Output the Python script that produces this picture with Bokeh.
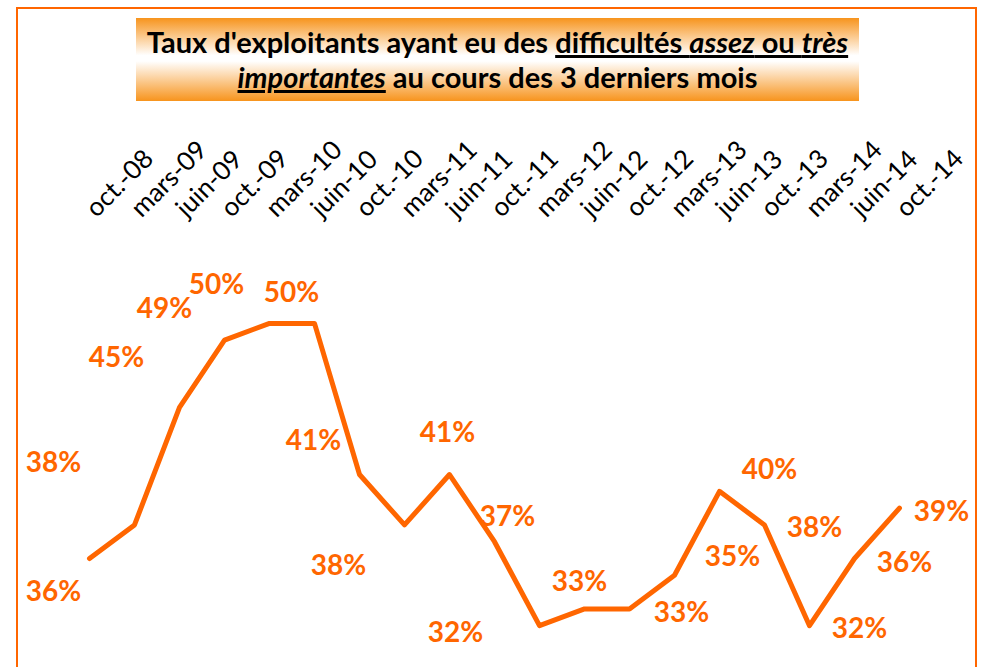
import math
from bokeh.plotting import figure
from bokeh.models import ColumnDataSource, Range1d, FixedTicker, Div
from bokeh.layouts import column, row
from bokeh.core.properties import value
from bokeh.embed import file_html
from bokeh.resources import INLINE

# ---- data ----
periods = ["oct.-08", "mars-09", "juin-09", "oct.-09", "mars-10", "juin-10", "oct.-10",
           "mars-11", "juin-11", "oct.-11", "mars-12", "juin-12", "oct.-12", "mars-13",
           "juin-13", "oct.-13", "mars-14", "juin-14", "oct.-14"]
rates = [36, 38, 45, 49, 50, 50, 41, 38, 41, 37, 32, 33, 33, 35, 40, 38, 32, 36, 39]

# label placement (screen px offsets from each point)
label_dx = [-36, -81, -63, -60, -53, -23, -46, -66, -2, 13, -84, -5, 52, 58, 50, 50, 50, 50, 42]
label_dy = [31, -64, -51, -33, -40, -32, -36, 39, -44, -27, 5, -29, 2, -20, -23, 1, 1, 2, 2]

ORANGE = "#FF6600"
FIG_H = 557
idx = list(range(len(periods)))
src = ColumnDataSource(dict(
    x=idx, y=rates, lab=[f"{v}%" for v in rates], dx=label_dx, dy=label_dy))

p = figure(width=957, height=FIG_H, output_backend="svg", toolbar_location=None,
           x_range=Range1d(-1.578, 19.689), y_range=Range1d(29.51, 54.34),
           x_axis_location="above", min_border_left=0, min_border_right=0,
           min_border_bottom=0, min_border_top=140)
p.outline_line_color = None
p.grid.visible = False
p.yaxis.visible = False
p.background_fill_color = "white"
p.border_fill_color = "white"

ax = p.xaxis[0]
ax.ticker = FixedTicker(ticks=idx)
ax.major_label_overrides = {i: s for i, s in zip(idx, periods)}
ax.major_label_orientation = math.pi / 4
ax.axis_line_color = None
ax.major_tick_line_color = None
ax.minor_tick_line_color = None
ax.major_label_text_font = "Lato"
ax.major_label_text_font_size = "26px"
ax.major_label_text_color = "black"
ax.major_label_standoff = 33

p.line("x", "y", source=src, line_color=ORANGE, line_width=5,
       line_join="round", line_cap="round")
p.text("x", "y", text="lab", source=src, x_offset="dx", y_offset="dy",
       text_align="center", text_baseline="middle", text_color=ORANGE,
       text_font=value("Lato"), text_font_style="bold", text_font_size="28px")

title_html = (
    '<div style="padding-top:7px; padding-left:16px; box-sizing:border-box; width:980px; height:110px;">'
    '<div style="width:961px; height:103px; box-sizing:border-box; '
    'border-top:2px solid ' + ORANGE + '; border-left:2px solid ' + ORANGE + '; '
    'border-right:2px solid ' + ORANGE + '; padding-top:9px; padding-left:118px;">'
    '<div style="width:723px; height:83px; '
    'background:linear-gradient(to bottom, #F7941D 0%, #FFFFFF 45%, #FFFFFF 52%, #F7941D 100%); '
    'font-family:Lato; font-weight:bold; font-size:29px; color:black; text-align:center; '
    'line-height:35px; padding-top:6px; box-sizing:border-box; white-space:nowrap;">'
    "Taux d'exploitants ayant eu des "
    '<u style="text-decoration-thickness:3px;">difficultés <i>assez</i> ou <i>très</i></u><br>'
    '<u style="text-decoration-thickness:3px;"><i>importantes</i></u> au cours des 3 derniers mois'
    '</div></div></div>'
)
title_div = Div(text=title_html, width=980, height=110, margin=0)

# left side: 16px white gap then a 2px orange line, drawn as one block
left_html = ('<div style="width:18px; height:%dpx; box-sizing:border-box; '
             'border-right:2px solid %s; background:white;"></div>' % (FIG_H, ORANGE))
right_html = '<div style="width:2px; height:%dpx; background:%s;"></div>' % (FIG_H, ORANGE)
left_line = Div(text=left_html, width=18, height=FIG_H, margin=0)
right_line = Div(text=right_html, width=2, height=FIG_H, margin=0)

layout = column(title_div, row(left_line, p, right_line, spacing=0), spacing=0)

open("out.html", "w").write(file_html(layout, INLINE))
